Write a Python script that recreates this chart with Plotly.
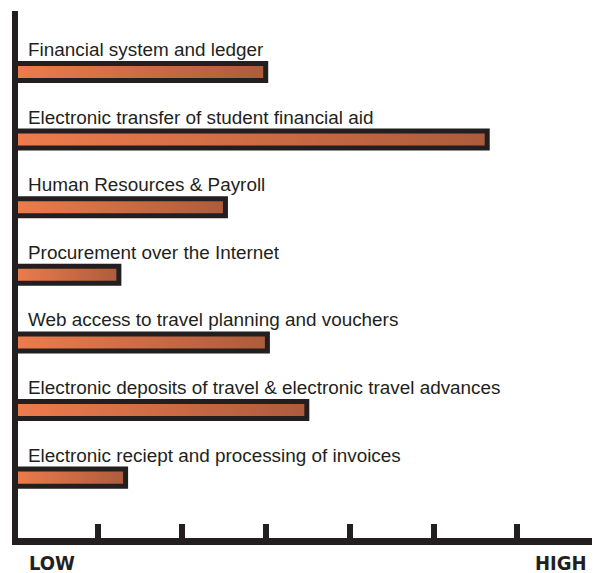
import plotly.graph_objects as go

categories = [
    "Financial system and ledger",
    "Electronic transfer of student financial aid",
    "Human Resources & Payroll",
    "Procurement over the Internet",
    "Web access to travel planning and vouchers",
    "Electronic deposits of travel & electronic travel advances",
    "Electronic reciept and processing of invoices",
]
values = [3.0, 5.64, 2.52, 1.25, 3.02, 3.49, 1.33]
tick_values = [1, 2, 3, 4, 5, 6]
scale_labels = ["LOW", "HIGH"]

INK = "#231F20"
HALF = 0.126

fig = go.Figure()
for i, (cat, v) in enumerate(zip(categories, values)):
    fig.add_trace(go.Scatter(
        x=[0, v, v, 0, 0],
        y=[i - HALF, i - HALF, i + HALF, i + HALF, i - HALF],
        mode="lines",
        fill="toself",
        fillgradient=dict(type="horizontal",
                          colorscale=[[0, "#EE7C4D"], [1, "#AC5C3C"]]),
        line=dict(color=INK, width=5),
        hoverinfo="skip",
        showlegend=False,
    ))
    fig.add_annotation(
        x=0, y=i, xref="paper", yref="y", text=cat, showarrow=False,
        xanchor="left", yanchor="bottom", xshift=8, yshift=10,
        font=dict(family="Liberation Sans, Arial, sans-serif", size=18.9, color=INK),
    )

label_font = dict(family="Liberation Sans Narrow, DejaVu Sans Condensed, sans-serif", size=20, color=INK)
fig.add_annotation(x=0.0155, y=0, xref="paper", yref="paper", text="<b>%s</b>" % scale_labels[0],
                   showarrow=False, xanchor="left", yanchor="top", yshift=-11, font=label_font)
fig.add_annotation(x=0.981, y=0, xref="paper", yref="paper", text="<b>%s</b>" % scale_labels[1],
                   showarrow=False, xanchor="right", yanchor="top", yshift=-11, font=label_font)

fig.update_layout(
    width=592, height=565,
    margin=dict(l=10, r=0, t=3, b=35),
    paper_bgcolor="white", plot_bgcolor="white",
    xaxis=dict(range=[0.0477, 6.984], showgrid=False, zeroline=False,
               showline=True, linewidth=7, linecolor=INK,
               tickmode="array", tickvals=tick_values, ticks="inside",
               ticklen=14, tickwidth=6, tickcolor=INK, showticklabels=False),
    yaxis=dict(range=[6.893, -0.902], showgrid=False, zeroline=False,
               showline=True, linewidth=6, linecolor=INK,
               showticklabels=False, ticks=""),
)

fig.write_html("out.html")
